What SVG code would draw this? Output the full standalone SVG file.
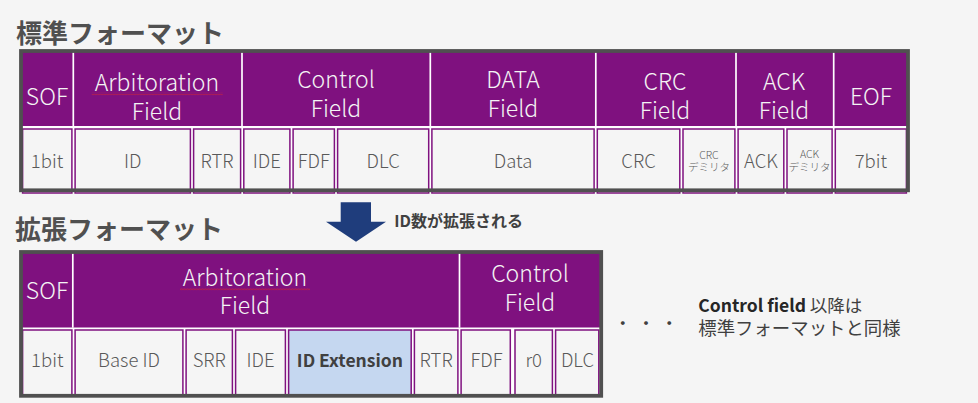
<svg xmlns="http://www.w3.org/2000/svg" width="978" height="403" viewBox="0 0 978 403">
<style>
text{font-family:"Noto Sans CJK JP","Noto Sans",sans-serif}
.hd{fill:#7f117f}
.wb{fill:#ffffff}
.dv{stroke:#ffffff;stroke-width:1.7}
.cell{fill:#f5f5f5;stroke:#7f117f;stroke-width:1.5}
.ext{fill:#c5d7f0;stroke:#7f117f;stroke-width:1.5}
.frame{fill:none;stroke:#505050;stroke-width:3.8}
.ht{font-size:23px;fill:#f4f4f4;text-anchor:middle;font-weight:300}
.ct{font-size:18.5px;fill:#595959;text-anchor:middle;font-weight:300}
.st{font-size:10.5px;fill:#595959;text-anchor:middle;font-weight:300}
.title{font-size:26px;font-weight:bold;fill:#505050}
</style>
<defs>
<pattern id="sq" patternUnits="userSpaceOnUse" width="3" height="2.4">
<path d="M0 1.8 L1.5 0.6 L3 1.8" fill="none" stroke="#e02828" stroke-width="0.8"/>
</pattern>
</defs>
<rect width="978" height="403" fill="#f5f5f5"/>

<text class="title" x="16" y="43">標準フォーマット</text>

<g id="standard-frame">
<rect class="hd" x="21" y="51" width="887" height="75"/>
<rect class="wb" x="21" y="126" width="887" height="67"/>
<g id="std-sof"><text class="ht" x="47" y="104.5">SOF</text></g>
<g id="std-arb"><text class="ht" x="157" y="90.5">Arbitoration</text><text class="ht" x="157" y="120">Field</text>
<rect x="91.7" y="92.8" width="131" height="2.4" fill="url(#sq)"/></g>
<g id="std-ctrl"><text class="ht" x="336" y="87.5">Control</text><text class="ht" x="336" y="117">Field</text></g>
<g id="std-data"><text class="ht" x="513" y="88.3">DATA</text><text class="ht" x="513" y="116.7">Field</text></g>
<g id="std-crc"><text class="ht" x="665" y="90">CRC</text><text class="ht" x="665" y="119">Field</text></g>
<g id="std-ack"><text class="ht" x="784" y="90">ACK</text><text class="ht" x="784" y="119">Field</text></g>
<g id="std-eof"><text class="ht" x="871" y="104.5">EOF</text></g>
<line class="dv" x1="73.3" y1="51" x2="73.3" y2="126"/>
<line class="dv" x1="242" y1="51" x2="242" y2="126"/>
<line class="dv" x1="430.3" y1="51" x2="430.3" y2="126"/>
<line class="dv" x1="595.8" y1="51" x2="595.8" y2="126"/>
<line class="dv" x1="736" y1="51" x2="736" y2="126"/>
<line class="dv" x1="833.7" y1="51" x2="833.7" y2="126"/>

<g id="std-1bit"><rect class="cell" x="22.6" y="129" width="49.3" height="64"/><text class="ct" x="47" y="168">1bit</text></g>
<g id="std-id"><rect class="cell" x="75.1" y="129" width="115.3" height="64"/><text class="ct" x="132.75" y="168">ID</text></g>
<g id="std-rtr"><rect class="cell" x="193.6" y="129" width="47" height="64"/><text class="ct" x="217.1" y="168">RTR</text></g>
<g id="std-ide"><rect class="cell" x="243.8" y="129" width="46.1" height="64"/><text class="ct" x="266.85" y="168">IDE</text></g>
<g id="std-fdf"><rect class="cell" x="293.1" y="129" width="41.3" height="64"/><text class="ct" x="313.75" y="168">FDF</text></g>
<g id="std-dlc"><rect class="cell" x="337.6" y="129" width="91.1" height="64"/><text class="ct" x="383.15" y="168">DLC</text></g>
<g id="std-data-cell"><rect class="cell" x="431.9" y="129" width="162.2" height="64"/><text class="ct" x="513" y="168">Data</text></g>
<g id="std-crc-cell"><rect class="cell" x="597.3" y="129" width="82.5" height="64"/><text class="ct" x="638.55" y="168">CRC</text></g>
<g id="std-crc-delim"><rect class="cell" x="683" y="129" width="51.9" height="64"/><text class="st" x="708.95" y="158.8">CRC</text><text class="st" x="708.95" y="171.3">デミリタ</text></g>
<g id="std-ack-cell"><rect class="cell" x="738.1" y="129" width="45.7" height="64"/><text class="ct" x="760.95" y="168">ACK</text></g>
<g id="std-ack-delim"><rect class="cell" x="787" y="129" width="45.1" height="64"/><text class="st" x="809.55" y="158.3">ACK</text><text class="st" x="809.55" y="171">デミリタ</text></g>
<g id="std-7bit"><rect class="cell" x="835.3" y="129" width="71.1" height="64"/><text class="ct" x="870.85" y="168">7bit</text></g>
<rect class="frame" x="21" y="51" width="887" height="139.3"/>
</g>

<g id="connectors">
<path d="M340.7 202.3 H371 V221.7 H386 L356 241.7 L326 221.7 H340.7 Z" fill="#1f3d7c"/>
</g>
<text x="394.3" y="227" font-size="16" font-weight="bold" fill="#404040">ID数が拡張される</text>

<text class="title" x="15" y="238.5">拡張フォーマット</text>

<g id="extended-frame">
<rect class="hd" x="21" y="252" width="580" height="75.7"/>
<rect class="wb" x="21" y="327.7" width="580" height="68.3"/>
<g id="ext-sof"><text class="ht" x="47" y="299">SOF</text></g>
<g id="ext-arb"><text class="ht" x="245" y="286">Arbitoration</text><text class="ht" x="245" y="314.3">Field</text>
<rect x="180" y="288" width="130" height="2.4" fill="url(#sq)"/></g>
<g id="ext-ctrl"><text class="ht" x="530" y="281.7">Control</text><text class="ht" x="530" y="311">Field</text></g>
<line class="dv" x1="72.8" y1="252" x2="72.8" y2="327.7"/>
<line class="dv" x1="459.5" y1="252" x2="459.5" y2="327.7"/>

<g id="ext-1bit"><rect class="cell" x="22.6" y="330" width="49.3" height="66"/><text class="ct" x="47.25" y="366.7">1bit</text></g>
<g id="ext-baseid"><rect class="cell" x="75.1" y="330" width="107.8" height="66"/><text class="ct" x="129" y="366.7">Base ID</text></g>
<g id="ext-srr"><rect class="cell" x="186.1" y="330" width="46.3" height="66"/><text class="ct" x="209.25" y="366.7">SRR</text></g>
<g id="ext-ide"><rect class="cell" x="235.6" y="330" width="49.8" height="66"/><text class="ct" x="260.5" y="366.7">IDE</text></g>
<g id="ext-idext"><rect class="ext" x="288.6" y="330" width="122.6" height="66"/><text x="349.9" y="366.7" font-size="17.5" font-weight="bold" fill="#404040" text-anchor="middle">ID Extension</text></g>
<g id="ext-rtr"><rect class="cell" x="414.4" y="330" width="43.5" height="66"/><text class="ct" x="436.15" y="366.7">RTR</text></g>
<g id="ext-fdf"><rect class="cell" x="461.1" y="330" width="49.2" height="66"/><text class="ct" x="486.45" y="366.7">FDF</text></g>
<g id="ext-r0"><rect class="cell" x="515" y="330" width="37.4" height="66"/><text class="ct" x="533.7" y="366.7">r0</text></g>
<g id="ext-dlc"><rect class="cell" x="555.6" y="330" width="43.2" height="66"/><text class="ct" x="577.5" y="366.7">DLC</text></g>
<rect class="frame" x="21" y="252" width="580.2" height="143.8"/>
</g>

<g id="note">
<text x="622.7 646 669.3" y="329.5" font-size="18" fill="#404040" text-anchor="middle">・・・</text>
<text x="698.3" y="312.3" font-size="17.5" fill="#404040"><tspan font-weight="bold" fill="#262626">Control field</tspan> 以降は</text>
<text x="698.3" y="334.5" font-size="18.4" fill="#404040">標準フォーマットと同様</text>
</g>
</svg>
